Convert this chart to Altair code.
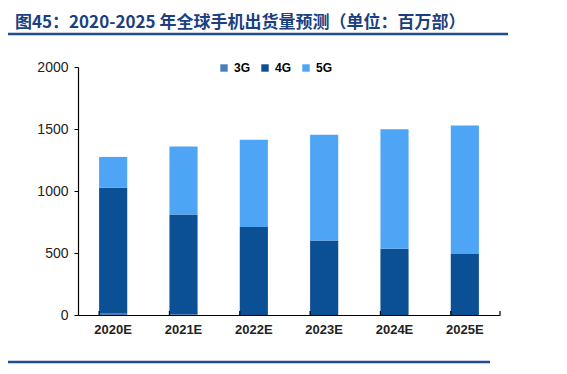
import altair as alt
import pandas as pd

years = ["2020E", "2021E", "2022E", "2023E", "2024E", "2025E"]
g3 = [15, 4, 1, 0, 0, 0]
g4 = [1011, 806, 708, 601, 535, 492]
g5 = [249, 548, 705, 853, 962, 1037]
series = ["3G", "4G", "5G"]
colors = ["#4a7ebb", "#0b4f95", "#4ea5f5"]
title_text = "图45：2020-2025 年全球手机出货量预测（单位：百万部）"

rows = []
for i, y in enumerate(years):
    for s, vals in zip(series, [g3, g4, g5]):
        rows.append({"year": y, "series": s, "value": vals[i], "ord": series.index(s)})
df = pd.DataFrame(rows)
year_df = pd.DataFrame({"year": years})

W, H = 422, 248

xscale = alt.Scale(paddingInner=0.6, paddingOuter=0.3)

bars = alt.Chart(df).mark_bar().encode(
    x=alt.X("year:N", sort=years, title=None, scale=xscale,
            axis=alt.Axis(labelAngle=0, ticks=False,
                          labelFont="Liberation Sans", labelFontSize=13,
                          labelFontWeight="bold", labelColor="#222222",
                          labelPadding=8, domainColor="#000000",
                          domainWidth=1.2)),
    y=alt.Y("value:Q", stack="zero", title=None,
            scale=alt.Scale(domain=[0, 2000], nice=False),
            axis=alt.Axis(values=[0, 500, 1000, 1500, 2000], grid=False,
                          format="d", tickSize=4, labelFont="Liberation Sans",
                          labelFontSize=14, labelColor="#222222",
                          labelPadding=6, domainColor="#000000",
                          tickColor="#000000", domainWidth=1.2)),
    color=alt.Color("series:N", sort=series,
                    scale=alt.Scale(domain=series, range=colors),
                    legend=alt.Legend(title=None, orient="none", direction="horizontal",
                                      legendX=140, legendY=-5, symbolType="square",
                                      symbolSize=55, labelFontSize=12,
                                      labelFontWeight="bold",
                                      labelFont="Liberation Sans",
                                      columnPadding=8, symbolStrokeWidth=0)),
    order=alt.Order("ord:Q"),
)

xticks = alt.Chart(year_df).mark_rule(color="#000000", strokeWidth=1.2).encode(
    x=alt.X("year:N", sort=years, bandPosition=0, scale=xscale),
    y=alt.value(H - 4), y2=alt.value(H))
xtick_end = alt.Chart(pd.DataFrame({"k": [0]})).mark_rule(color="#000000", strokeWidth=1.2).encode(
    x=alt.value(W), y=alt.value(H - 4), y2=alt.value(H))

title_df = pd.DataFrame({"t": [title_text]})
title = alt.Chart(title_df).mark_text(
    align="left", baseline="middle", fontSize=17, fontWeight="bold",
    font="Noto Sans CJK SC", color="#1c3f7f"
).encode(text="t:N", x=alt.value(-63), y=alt.value(-44))

top_rule = alt.Chart(title_df).mark_rule(color="#1f4e8c", strokeWidth=2.5).encode(
    x=alt.value(-75), x2=alt.value(430), y=alt.value(-33))
bot_rule = alt.Chart(title_df).mark_rule(color="#1f4e8c", strokeWidth=2.5).encode(
    x=alt.value(-75), x2=alt.value(412), y=alt.value(295))

chart = alt.layer(bars, xticks, xtick_end, title, top_rule, bot_rule).properties(
    width=W, height=H,
    autosize=alt.AutoSizeParams(type="none"),
    padding={"left": 70, "top": 59, "right": 50, "bottom": 58},
).configure_view(stroke=None)

chart.save("out.html", embed_options={"renderer": "svg", "actions": False})
